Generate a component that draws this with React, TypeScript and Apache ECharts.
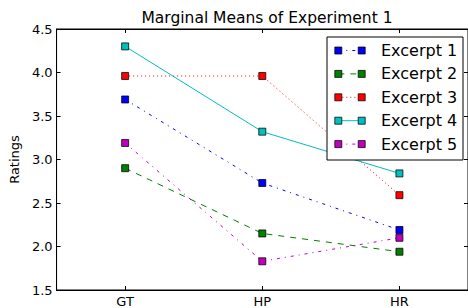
import React, { useEffect, useRef } from "react";
import * as echarts from "echarts";

const categories = ["GT", "HP", "HR"];
const seriesNames = ["Excerpt 1", "Excerpt 2", "Excerpt 3", "Excerpt 4", "Excerpt 5"];
const excerpt1 = [3.69, 2.73, 2.19];
const excerpt2 = [2.9, 2.15, 1.94];
const excerpt3 = [3.96, 3.96, 2.59];
const excerpt4 = [4.3, 3.32, 2.84];
const excerpt5 = [3.19, 1.83, 2.1];
const seriesValues = [excerpt1, excerpt2, excerpt3, excerpt4, excerpt5];
const colors = ["#0000ff", "#008000", "#ff0000", "#00bfbf", "#bf00bf"];
const dashes: (number[] | "solid")[] = [[3, 5, 1, 5], [6, 6], [1, 3], "solid", [3, 5, 1, 5]];
const yMin = 1.5;
const yMax = 4.5;
const yStep = 0.5;

const FONT = "DejaVu Sans";

export default function App() {
  const ref = useRef<HTMLDivElement>(null);
  useEffect(() => {
    if (!ref.current) return;
    const chart = echarts.init(ref.current, null, { renderer: "svg" });

    const legendLeft = 327;
    const legendTop = 37;
    const legendW = 136;
    const legendH = 123;
    const rowStart = 50.5;
    const rowStep = 23.4;
    const legendEls: any[] = [
      {
        type: "rect",
        shape: { x: legendLeft, y: legendTop, width: legendW, height: legendH },
        style: { fill: "#fff", stroke: "#000", lineWidth: 1 },
        z: 100,
      },
    ];
    seriesNames.forEach((name, i) => {
      const y = rowStart + i * rowStep;
      const d = dashes[i];
      legendEls.push({
        type: "line",
        shape: { x1: 338.3, y1: y, x2: 361.7, y2: y },
        style: { stroke: colors[i], lineWidth: 1, lineDash: d === "solid" ? null : d },
        z: 101,
      });
      [338.3, 361.7].forEach((cx) => {
        legendEls.push({
          type: "rect",
          shape: { x: cx - 3.5, y: y - 3.5, width: 7, height: 7 },
          style: { fill: colors[i], stroke: "rgba(0,0,0,0.75)", lineWidth: 1 },
          z: 102,
        });
      });
      legendEls.push({
        type: "text",
        x: 381,
        y: y,
        style: {
          text: name,
          fill: "#000",
          font: `16px '${FONT}'`,
          verticalAlign: "middle",
          align: "left",
        },
        z: 102,
      });
    });

    const grid = { left: 53, top: 29, width: 418, height: 262 };

    chart.setOption({
      animation: false,
      backgroundColor: "#fff",
      title: {
        text: "Marginal Means of Experiment 1",
        left: 262,
        textAlign: "center",
        top: 5,
        textStyle: { fontFamily: FONT, fontSize: 15.5, fontWeight: "normal", color: "#000" },
      },
      grid: { ...grid, show: true, borderColor: "#000", borderWidth: 1, backgroundColor: "transparent" },
      xAxis: [
        {
          type: "category",
          data: categories,
          boundaryGap: true,
          axisLine: { show: true, lineStyle: { color: "#000", width: 1 } },
          axisTick: { show: true, inside: true, length: 4, alignWithLabel: true, lineStyle: { color: "#000" } },
          axisLabel: { fontFamily: FONT, fontSize: 13, color: "#000", margin: 5 },
          splitLine: { show: false },
        },
        {
          type: "category",
          data: categories,
          position: "top",
          boundaryGap: true,
          axisLine: { show: true, lineStyle: { color: "#000", width: 1 } },
          axisTick: { show: true, inside: true, length: 4, alignWithLabel: true, lineStyle: { color: "#000" } },
          axisLabel: { show: false },
          splitLine: { show: false },
        },
      ],
      yAxis: [
        {
          type: "value",
          min: yMin,
          max: yMax,
          interval: yStep,
          name: "Ratings",
          nameLocation: "middle",
          nameGap: 28,
          nameTextStyle: { fontFamily: FONT, fontSize: 13, color: "#000" },
          axisLine: { show: true, lineStyle: { color: "#000", width: 1 } },
          axisTick: { show: true, inside: true, length: 4, lineStyle: { color: "#000" } },
          axisLabel: {
            fontFamily: FONT,
            fontSize: 13,
            color: "#000",
            margin: 4,
            formatter: (v: number) => v.toFixed(1),
          },
          splitLine: { show: false },
        },
        {
          type: "value",
          min: yMin,
          max: yMax,
          interval: yStep,
          position: "right",
          axisLine: { show: true, lineStyle: { color: "#000", width: 1 } },
          axisTick: { show: true, inside: true, length: 4, lineStyle: { color: "#000" } },
          axisLabel: { show: false },
          splitLine: { show: false },
        },
      ],
      series: seriesNames.map((name, i) => ({
        name,
        type: "line",
        data: seriesValues[i],
        xAxisIndex: 0,
        yAxisIndex: 0,
        symbol: "rect",
        symbolSize: 7,
        showSymbol: true,
        lineStyle: { color: colors[i], width: 1, type: dashes[i] },
        itemStyle: { color: colors[i], borderColor: "rgba(0,0,0,0.75)", borderWidth: 1 },
        emphasis: { disabled: true },
        z: 2 + i,
      })),
      graphic: legendEls,
    });
    return () => chart.dispose();
  }, []);
  return (
    <div
      ref={ref}
      style={{ position: "absolute", left: 0, top: 0, width: 468, height: 308 }}
    />
  );
}
